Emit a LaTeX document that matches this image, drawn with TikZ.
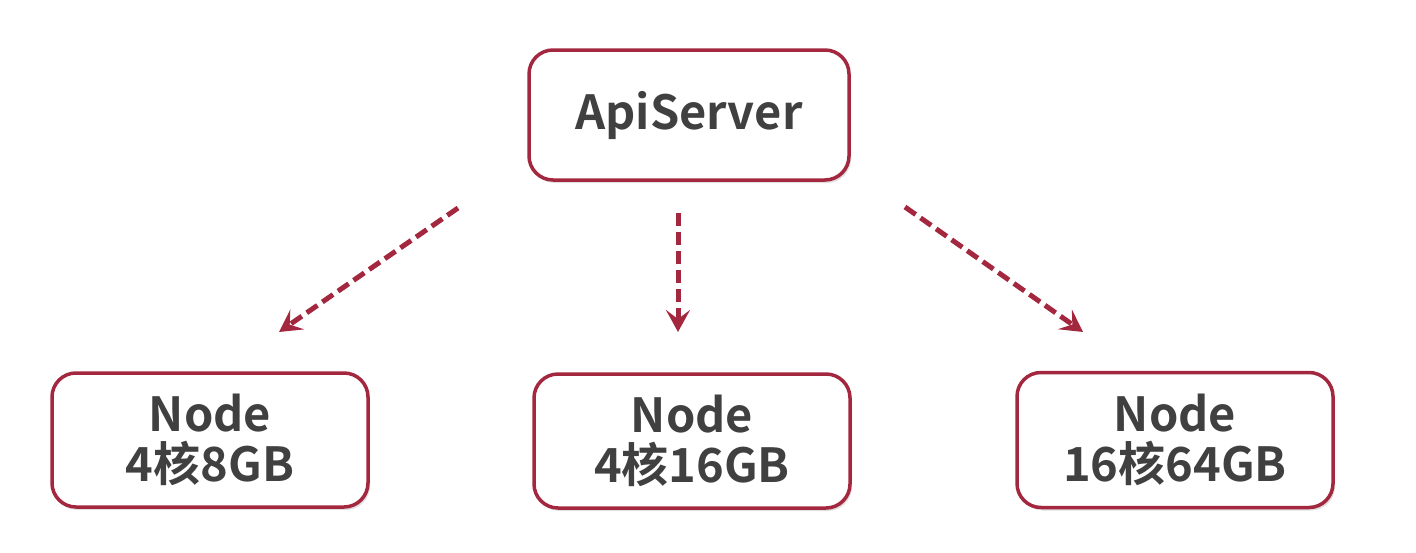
\documentclass[tikz,border=0pt]{standalone}
\usepackage{fontspec}
\setmainfont{Noto Sans CJK SC}[BoldFont={* Bold}]
\usetikzlibrary{arrows.meta,shadows}
\definecolor{crim}{HTML}{A3283F}
\definecolor{txt}{HTML}{404040}
\begin{document}
\begin{tikzpicture}[x=1pt,y=-1pt,
  box/.style={draw=crim,line width=3.5pt,rounded corners=24pt,fill=white,
    drop shadow={shadow xshift=2pt,shadow yshift=-3pt,opacity=0.12,fill=black},
    text=txt,font=\bfseries\fontsize{47}{50}\selectfont,align=center,inner sep=0pt},
  conn/.style={draw=crim,line width=5pt,dash pattern=on 13pt off 6pt,
    -{Stealth[length=22pt,width=24pt,inset=9pt]}}]
\useasboundingbox (0,0) rectangle (1416,552);
\fill[white] (0,0) rectangle (1416,552);
\node[box,minimum width=320pt,minimum height=130pt] (api) at (689,115) {ApiServer};
\node[box,minimum width=316pt,minimum height=134pt] (n1) at (210,440) {Node\\4核8GB};
\node[box,minimum width=316pt,minimum height=134pt] (n2) at (692,441) {Node\\4核16GB};
\node[box,minimum width=316pt,minimum height=135pt] (n3) at (1175,440) {Node\\16核64GB};
\coordinate (s1) at (458,208); \coordinate (e1) at (279,332);
\coordinate (s2) at (678,213); \coordinate (e2) at (678,332);
\coordinate (s3) at (905,207); \coordinate (e3) at (1083,332);
\draw[conn] (s1) -- (e1);
\draw[conn] (s2) -- (e2);
\draw[conn] (s3) -- (e3);
\end{tikzpicture}
\end{document}
